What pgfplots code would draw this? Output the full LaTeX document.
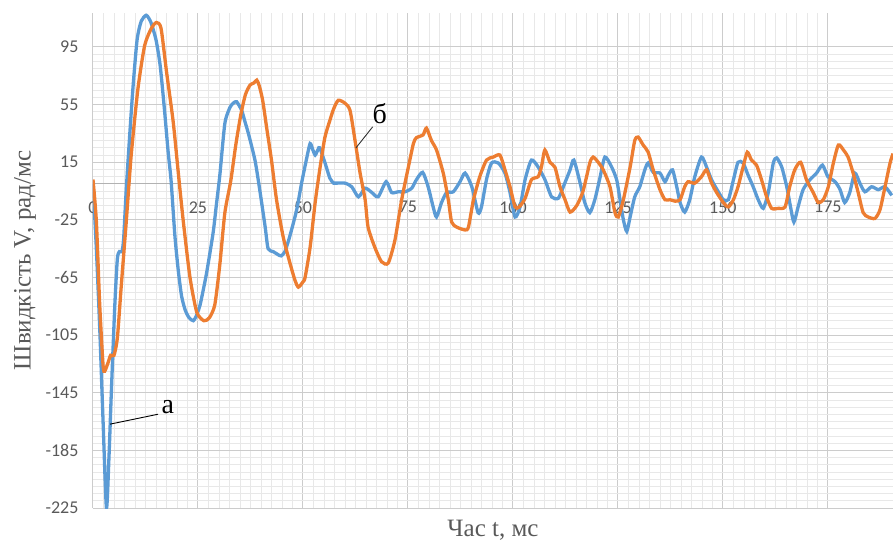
\documentclass[border=0pt]{standalone}
\usepackage{fontspec}
\setmainfont{Liberation Serif}
\newfontfamily\tickfont{Carlito}
\usepackage{pgfplots}
\pgfplotsset{compat=1.18}
\definecolor{ablue}{RGB}{91,155,213}
\definecolor{borange}{RGB}{237,125,49}
\definecolor{tickgray}{RGB}{89,89,89}
\begin{document}
\begin{tikzpicture}
\begin{axis}[
  at={(0,0)}, anchor=south west,
  scale only axis, width=800pt, height=495pt,
  xmin=0, xmax=190.5, ymin=-225, ymax=118.6,
  axis x line=middle, axis y line=left,
  x axis line style={-, draw=black!30, line width=1.1pt},
  y axis line style={draw=none},
  xtick={0,25,...,175}, ytick={-225,-185,...,95},
  minor x tick num=9, minor y tick num=7,
  grid=both,
  major grid style={draw=black!20, line width=1pt},
  minor grid style={draw=black!9, line width=0.8pt},
  major tick length=0pt, minor tick length=0pt,
  hide obscured x ticks=false,
  /pgf/number format/assume math mode=true,
  tick label style={font=\tickfont\fontsize{18}{21}\selectfont, text=tickgray},
  xticklabel style={yshift=-14pt},
  yticklabel style={xshift=-11pt},
  every axis x label/.style={at={(axis description cs:0.5,-0.0444)}, anchor=center},
  every axis y label/.style={at={(axis description cs:-0.085,0.5)}, anchor=center, rotate=90},
  label style={font=\fontsize{25}{30}\selectfont, text=tickgray},
  xlabel={Час t, мс},
  ylabel={Швидкість V, рад/мс},
  clip=true,
]
\addplot[ablue, line width=3.3pt, smooth, tension=0.4] coordinates {
(0,0) (0.8,-45) (1.6,-100) (2.4,-165) (3.2,-225) (3.8,-190) (4.4,-142) (5.2,-84)
(5.8,-52) (6.3,-47) (6.9,-47) (7.3,-38) (7.9,-5) (8.7,32) (9.5,66) (10.5,100)
(11.5,113) (12.7,117) (13.8,112) (15.0,100) (16.0,82) (17.0,52) (17.9,22) (18.6,2)
(19.5,-36) (20.3,-60) (21.1,-78) (22.0,-88) (22.9,-93) (23.9,-95) (24.7,-91) (25.5,-84)
(26.3,-73) (27.1,-61) (28.6,-34) (29.4,-14) (30.2,6) (31.4,42) (32.6,53) (33.4,56)
(34.2,57) (35.4,51) (36.2,43) (37.0,35) (38.6,16) (39.8,-6) (41.0,-30) (41.7,-45)
(42.9,-47) (44.0,-49) (44.8,-50) (45.7,-47) (46.9,-36) (48.5,-18) (49.7,1) (50.9,18)
(51.7,28) (52.3,24) (52.9,20) (53.6,24) (54.0,25) (55.2,15) (56.4,4) (57.3,0.5)
(58.0,0.5) (60.0,0.5) (61.6,-2) (63.2,-9) (64.8,-3) (66.4,-6) (67.9,-9) (69.8,1.5)
(71.1,-6) (72.7,-5.5) (74.3,-5.5) (75.9,-3) (77.0,2.8) (78.5,8) (79.8,-2) (81.0,-16)
(81.8,-23) (83.0,-13) (84.2,-6) (85.8,-5.5) (87.4,1.5) (88.6,7.5) (90.2,-2) (91.7,-20)
(92.5,-16) (93.7,3) (94.9,14.5) (96.5,14.5) (98.1,7.5) (99.3,-6) (100.5,-23) (101.7,-16)
(102.9,3) (104.4,16.5) (106.0,11.7) (107.6,3) (109.2,-9) (110.8,-10) (112.0,-2) (113.6,9.7)
(114.5,16.5) (116.0,0.5) (117.1,-13) (118.3,-20) (119.5,-11) (120.7,4) (121.9,18.6) (123.5,11.7)
(124.7,2.8) (125.5,-11) (126.3,-25) (127.1,-33) (127.9,-23) (129.0,-9) (130.2,-2) (131.4,9.7)
(132.2,14.5) (133.4,8) (135.0,7.5) (136.2,1.5) (137.0,6) (138.0,9.7) (139.0,-2) (139.8,-13)
(140.9,-19.6) (142.1,-11) (143.3,5) (144.9,18.6) (146.1,11.7) (147.3,2.8) (148.9,-5.5) (150.1,-11)
(151.3,-11) (152.5,2.8) (153.6,15) (154.8,14.5) (156.0,6) (157.2,-2) (158.4,-11) (159.6,-17)
(160.8,-6) (162.0,14.5) (162.8,18) (164.0,11.7) (165.2,-2) (166.1,-16) (166.9,-26.5) (167.9,-16)
(169.1,-4) (170.7,2.8) (172.3,7.5) (173.7,13) (175.0,5) (176.7,1.5) (177.9,-4) (179.0,-13)
(180.2,-6) (181.4,7.5) (182.6,0.5) (183.8,-5.5) (185.4,-2) (187.0,-4) (188.6,-2) (190.2,-8)
};
\addplot[borange, line width=3.3pt, smooth, tension=0.4] coordinates {
(0,3) (0.8,-26) (1.6,-84) (2.4,-126) (2.8,-130) (3.6,-124) (4.2,-119) (5.0,-119)
(5.8,-107) (6.7,-72) (7.9,-27) (9.1,20) (10.7,66) (12.3,96) (13.9,108) (15.1,112)
(16.2,108) (17.5,78) (19.1,43) (20.3,8) (21.5,-26) (23.1,-65) (24.7,-89) (26.4,-95)
(27.7,-93) (29.0,-84) (30.2,-56) (31.4,-20) (32.8,2) (34.0,27) (35.2,48) (36.3,62)
(37.4,68.6) (38.3,70) (39.0,72) (39.6,68) (40.4,58) (41.4,38) (42.5,16.5) (43.7,-11)
(45.3,-37) (46.9,-55) (48.1,-67) (48.9,-71.7) (50.0,-68) (50.5,-65) (51.7,-44) (52.9,-13)
(54.0,10) (55.2,32) (56.4,44) (57.3,52) (58.4,58) (60.0,56) (61.2,51) (62.4,30)
(63.6,7.5) (64.8,-11) (65.5,-30) (67.1,-44) (68.7,-54) (70.3,-55) (71.9,-39) (73.5,-11)
(75.1,11.7) (76.3,28) (77.0,32) (78.6,34) (79.4,38.7) (80.6,30) (81.8,23.5) (83.4,7.5)
(84.6,-11) (85.4,-26.5) (86.6,-30) (88.6,-32) (89.4,-30) (90.6,-11) (92.1,5) (93.7,16.5)
(95.3,18.6) (96.9,20) (98.1,9.7) (99.3,-2) (100.5,-16) (101.5,-16) (102.9,-10) (104.4,2.8)
(106.0,5) (106.8,12) (107.6,23.5) (108.8,15) (110.0,11.5) (111.2,-2) (112.4,-11) (113.6,-19.6)
(115.2,-15) (116.7,-5) (118.3,14.5) (119.1,18.6) (120.3,15) (121.5,9.7) (123.1,-2) (124.3,-20)
(125.1,-23) (126.3,-11) (127.9,11.7) (129.0,30) (129.8,32.5) (131.0,27) (132.2,22) (133.4,9.7)
(135.0,-4) (136.2,-11) (137.4,-11) (138.6,-12) (139.8,-11) (140.9,-2) (141.7,1.5) (143.3,0.5)
(144.9,5) (146.1,9.7) (147.3,0.5) (148.5,-6) (150.1,-13) (151.3,-16) (152.5,-11) (153.6,-2)
(154.8,11.7) (155.8,22) (156.8,16.5) (158.0,13) (159.2,2.8) (160.4,-9) (161.6,-17) (163.2,-17)
(164.8,-16) (165.9,-2) (167.1,9.7) (168.5,15) (169.9,2.8) (171.5,-6) (172.7,-13) (173.9,-11)
(175.1,-2) (176.3,14.5) (177.5,27) (178.7,23.5) (179.8,18.6) (181.0,7.5) (182.2,-6) (183.4,-20)
(184.6,-23) (186.2,-24) (187.4,-18) (188.6,-2) (189.8,14.5) (190.5,21)
};
\draw[black, line width=0.9pt] (axis cs:4.05,-166.8) -- (axis cs:15.5,-159.9);
\node[font=\fontsize{28}{30}\selectfont, text=black] at (axis cs:17.8,-155) {а};
\draw[black!80, line width=0.9pt] (axis cs:62.6,24.9) -- (axis cs:66.6,39.6);
\node[font=\fontsize{28}{30}\selectfont, text=black] at (axis cs:68.3,48.5) {б};
\end{axis}
\pgfresetboundingbox
\path[use as bounding box] (-93pt,-33pt) rectangle (800pt,508pt);
\end{tikzpicture}
\end{document}
